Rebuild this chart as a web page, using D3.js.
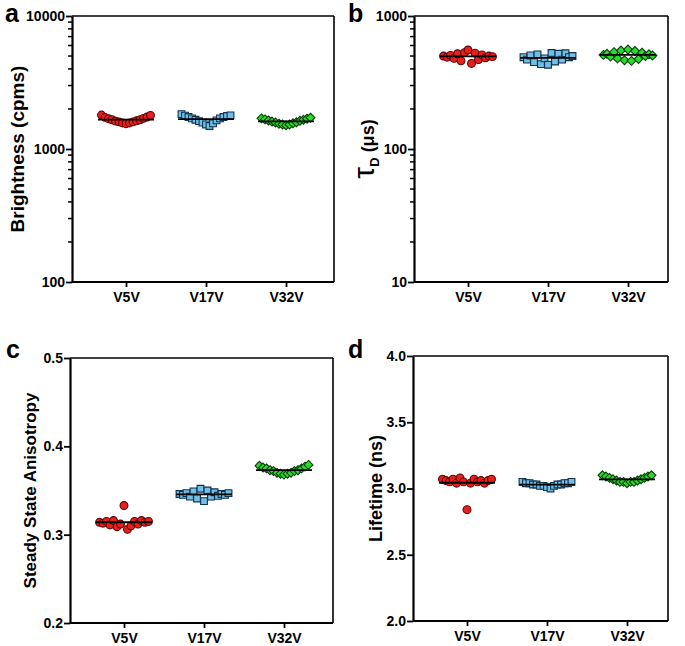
<!DOCTYPE html>
<html><head><meta charset="utf-8">
<script src="https://cdn.jsdelivr.net/npm/d3@7"></script>
<style>
body{margin:0;background:#fff;}
text{font-family:"Liberation Sans",Arial,sans-serif;font-weight:bold;}
</style></head>
<body>
<svg id="chart" width="685" height="646"></svg>
<script>
const categories = ["V5V","V17V","V32V"];

// a: Brightness (cpms), values left-to-right as they appear
const brightV5V  = [1800,1730,1690,1660,1620,1600,1570,1550,1570,1600,1630,1660,1700,1740,1790];
const brightV17V = [1830,1780,1740,1700,1660,1620,1580,1530,1490,1560,1640,1700,1740,1770,1790];
const brightV32V = [1700,1670,1640,1610,1580,1550,1530,1510,1530,1560,1590,1630,1660,1690,1720];
const brightTicks = [100,1000,10000];

// b: tau_D (us)
const tauV5V  = [500,490,505,480,520,460,530,555,440,525,470,510,485,500,495];
const tauV17V = [490,470,505,450,515,435,480,430,527,455,520,470,525,490,500];
const tauV32V = [510,520,495,535,480,550,465,560,460,545,475,530,500,515,505];
const tauTicks = [10,100,1000];

// c: Steady State Anisotropy
const anisoV5V  = [0.314,0.313,0.315,0.311,0.316,0.309,0.312,0.333,0.306,0.310,0.315,0.312,0.316,0.314,0.315];
const anisoV17V = [0.346,0.345,0.347,0.343,0.349,0.341,0.352,0.338,0.350,0.343,0.348,0.344,0.346,0.345,0.347];
const anisoV32V = [0.378,0.376,0.375,0.373,0.372,0.370,0.369,0.368,0.369,0.370,0.372,0.373,0.375,0.377,0.379];
const anisoTicks = [0.2,0.3,0.4,0.5];

// d: Lifetime (ns)
const lifeV5V  = [3.07,3.06,3.05,3.07,3.04,3.08,3.05,2.84,3.04,3.07,3.05,3.06,3.04,3.06,3.07];
const lifeV17V = [3.05,3.04,3.04,3.03,3.03,3.02,3.02,3.01,3.00,3.02,3.03,3.03,3.04,3.04,3.05];
const lifeV32V = [3.10,3.09,3.08,3.07,3.06,3.05,3.05,3.04,3.05,3.05,3.06,3.07,3.08,3.09,3.10];
const lifeTicks = [2.0,2.5,3.0,3.5,4.0];

const svg = d3.select("#chart");

const styles = [
  {shape:d3.symbolCircle, size:48, fill:"#e8201c", stroke:"#5a0606"},
  {shape:d3.symbolSquare, size:46, fill:"#72bfe6", stroke:"#10324f"},
  {shape:d3.symbolDiamond2, size:50, fill:"#28dc28", stroke:"#0b3d0b"}
];

function panel(opt){
  const {left,right,top,bottom,log,domain,ticks,fmt,series,letter,letterX,letterY,label,labelX,labelSize} = opt;
  const g = svg.append("g");
  const y = log ? d3.scaleLog().domain(domain).range([bottom,top])
                : d3.scaleLinear().domain(domain).range([bottom,top]);
  const x = d3.scalePoint().domain(categories).range([left+54,left+214]);

  // frame top & right
  g.append("line").attr("x1",left).attr("x2",right).attr("y1",top).attr("y2",top)
    .attr("stroke","#000").attr("stroke-width",1.6);
  g.append("line").attr("x1",right).attr("x2",right).attr("y1",top).attr("y2",bottom)
    .attr("stroke","#000").attr("stroke-width",1.6);

  // y axis
  const yAxis = d3.axisLeft(y).tickValues(ticks).tickFormat(fmt).tickSize(6).tickSizeOuter(0);
  const ya = g.append("g").attr("transform",`translate(${left},0)`).call(yAxis);
  ya.select(".domain").attr("stroke-width",2.2);
  ya.selectAll(".tick line").attr("stroke-width",1.8);
  ya.selectAll(".tick text").attr("font-size",14).attr("fill","#000").attr("dx",2);
  if(log){
    const minor = [];
    for(let e=Math.log10(domain[0]); e<Math.log10(domain[1]); e++){
      for(let k=2;k<=9;k++) minor.push(k*Math.pow(10,e));
    }
    g.selectAll(".minor").data(minor).enter().append("line")
      .attr("x1",left-4).attr("x2",left).attr("y1",d=>y(d)).attr("y2",d=>y(d))
      .attr("stroke","#000").attr("stroke-width",1.5);
  }

  // x axis
  const xAxis = d3.axisBottom(x).tickSize(5).tickSizeOuter(0);
  const xa = g.append("g").attr("transform",`translate(0,${bottom})`).call(xAxis);
  xa.select(".domain").attr("d",`M${left},0H${right}`).attr("stroke-width",2.2);
  xa.selectAll(".tick line").attr("stroke-width",1.8);
  xa.selectAll(".tick text").attr("font-size",14).attr("fill","#000").attr("dy","0.85em");

  // data
  series.forEach((vals,si)=>{
    const cx = x(categories[si]);
    const n = vals.length, step = 3.5;
    const m = d3.mean(vals);
    const st = styles[si];
    const sym = d3.symbol().type(st.shape).size(st.size);
    g.append("g").selectAll("path").data(vals).enter().append("path")
      .attr("d",sym)
      .attr("transform",(d,i)=>`translate(${cx+(i-(n-1)/2)*step},${y(d)})`)
      .attr("fill",st.fill).attr("stroke",st.stroke).attr("stroke-width",1.1);
    g.append("line").attr("x1",cx-28).attr("x2",cx+28).attr("y1",y(m)).attr("y2",y(m))
      .attr("stroke","#000").attr("stroke-width",1.8);
  });

  // letter
  g.append("text").attr("x",letterX).attr("y",letterY).attr("font-size",25).text(letter);
  // y label
  const cy = (top+bottom)/2;
  const lab = g.append("text").attr("transform",`translate(${labelX},${cy}) rotate(-90)`)
    .attr("text-anchor","middle").attr("font-size",labelSize);
  label(lab);
}

const fmtLog = d=>String(d);
panel({left:72,right:334,top:16,bottom:282,log:true,domain:[100,10000],ticks:brightTicks,fmt:fmtLog,
  series:[brightV5V,brightV17V,brightV32V],letter:"a",letterX:5,letterY:22,
  label:t=>t.text("Brightness (cpms)"),labelX:24,labelSize:19});
panel({left:414,right:668,top:16,bottom:282,log:true,domain:[10,1000],ticks:tauTicks,fmt:fmtLog,
  series:[tauV5V,tauV17V,tauV32V],letter:"b",letterX:348,letterY:22,
  label:t=>{t.append("tspan").attr("font-size",30).attr("font-weight","normal").text("τ");
            t.append("tspan").attr("font-size",13).attr("dy",5).text("D");
            t.append("tspan").attr("dy",-5).text(" (μs)");},labelX:374,labelSize:18});
panel({left:70,right:333,top:358,bottom:623,log:false,domain:[0.2,0.5],ticks:anisoTicks,fmt:d3.format(".1f"),
  series:[anisoV5V,anisoV17V,anisoV32V],letter:"c",letterX:6,letterY:358,
  label:t=>t.text("Steady State Anisotropy"),labelX:36,labelSize:17});
panel({left:413,right:668,top:356,bottom:621,log:false,domain:[2.0,4.0],ticks:lifeTicks,fmt:d3.format(".1f"),
  series:[lifeV5V,lifeV17V,lifeV32V],letter:"d",letterX:348,letterY:358,
  label:t=>t.text("Lifetime (ns)"),labelX:382,labelSize:18});
</script>
</body></html>
